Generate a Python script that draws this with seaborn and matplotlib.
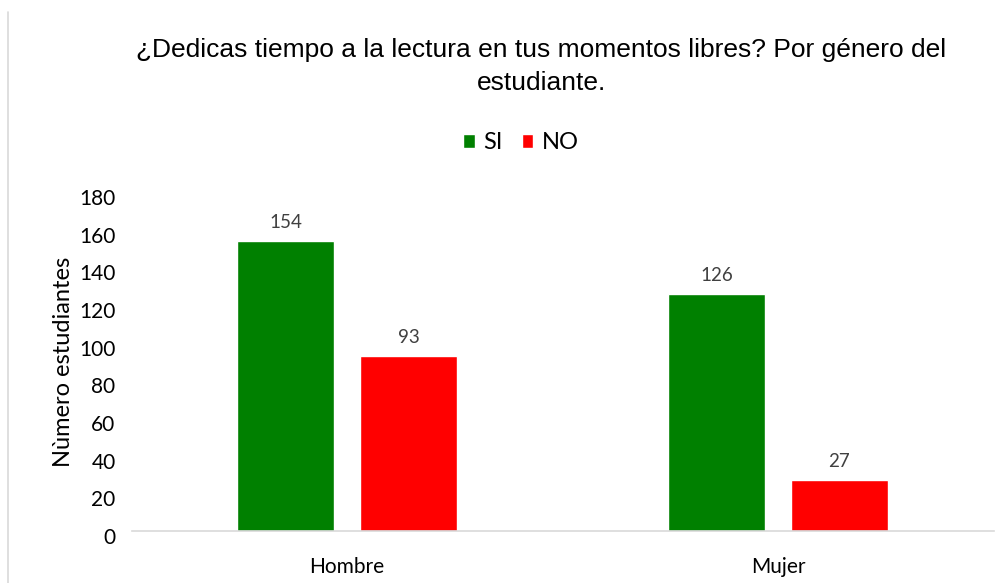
import matplotlib
matplotlib.use("Agg")
import matplotlib.pyplot as plt
import matplotlib.transforms as mtransforms
import seaborn as sns
import pandas as pd
from matplotlib.lines import Line2D
from matplotlib.patches import Patch

generos = ["Hombre", "Mujer"]
respuestas = ["SI", "NO"]
si = [154, 126]
no = [93, 27]
colores = {"SI": "#008000", "NO": "#FF0000"}

df = pd.DataFrame({
    "genero": generos * 2,
    "respuesta": ["SI"] * 2 + ["NO"] * 2,
    "n": si + no,
})

sns.set_style("white")
plt.rcParams['font.family'] = ['Lato', 'DejaVu Sans']
plt.rcParams['text.color'] = 'black'
plt.rcParams['axes.labelcolor'] = 'black'

fig = plt.figure(figsize=(10.07, 5.83), dpi=100)
ax = fig.add_axes([0.1306, 0.0892, 0.856, 0.5815])

sns.barplot(data=df, x="genero", y="n", hue="respuesta", hue_order=respuestas,
            palette=colores, width=0.57, gap=0.21, ax=ax, legend=False,
            saturation=1)

for c in ax.containers:
    ax.bar_label(c, padding=7, fontsize=13.5, color="#404040")

ax.set_ylim(0, 180)
ax.set_yticks(range(0, 181, 20))
ax.set_xlim(-0.5, 1.5)
ax.tick_params(axis="both", length=0, labelsize=15, colors="#000000")
ax.tick_params(axis="x", pad=19)
ax.tick_params(axis="y", pad=11.5)
shift = mtransforms.ScaledTranslation(0, -5 / 100, fig.dpi_scale_trans)
for lbl in ax.get_yticklabels():
    lbl.set_transform(lbl.get_transform() + shift)
for s in ["top", "right", "left"]:
    ax.spines[s].set_visible(False)
ax.spines["bottom"].set_color("#d9d9d9")
ax.spines["bottom"].set_linewidth(1.2)
ax.set_xlabel("")
ax.set_ylabel("Nùmero estudiantes", fontsize=17, labelpad=4, color="black")

fig.text(541 / 1007, 1 - 50 / 583, "¿Dedicas tiempo a la lectura en tus momentos libres? Por género del",
         ha="center", va="center", fontsize=19, family="Liberation Sans", color="black")
fig.text(541 / 1007, 1 - 83 / 583, "estudiante.",
         ha="center", va="center", fontsize=19, family="Liberation Sans", color="black")

handles = [Patch(facecolor=colores[r], label=r) for r in respuestas]
fig.legend(handles=handles, loc="center", bbox_to_anchor=(521 / 1007, 1 - 143 / 583),
           ncol=2, frameon=False, fontsize=17, handlelength=0.5, handleheight=0.5,
           handletextpad=0.35, columnspacing=0.8, labelcolor="black")

fig.add_artist(Line2D([8 / 1007, 8 / 1007], [0, 1 - 12 / 583], color="#d9d9d9", lw=1.2))

fig.savefig("out.png", dpi=100)
